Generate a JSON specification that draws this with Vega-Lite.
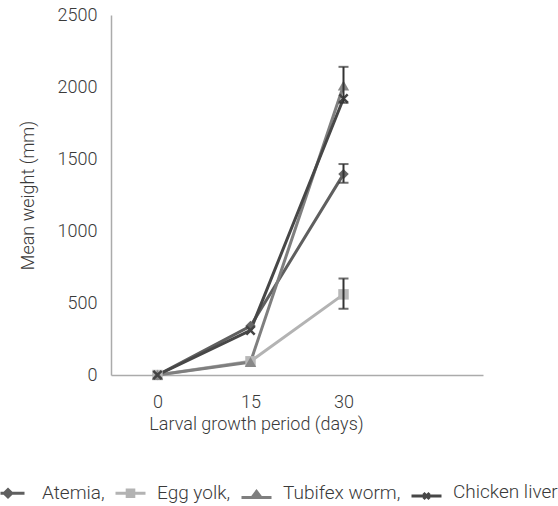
{
  "$schema": "https://vega.github.io/schema/vega-lite/v6.json",
  "width": 372,
  "height": 360,
  "autosize": "none",
  "padding": {"left": 111, "top": 15, "right": 75, "bottom": 131},
  "background": "white",
  "config": {
    "font": "Roboto",
    "view": {"stroke": null},
    "axis": {
      "labelFont": "Roboto",
      "titleFont": "Roboto",
      "labelFontSize": 18,
      "titleFontSize": 18,
      "labelFontWeight": 300,
      "titleFontWeight": 300,
      "labelColor": "#3a3a3a",
      "titleColor": "#3a3a3a",
      "domainColor": "#ababab",
      "domainWidth": 1.5,
      "ticks": false,
      "grid": false
    },
    "legend": {
      "labelFont": "Roboto",
      "labelFontSize": 19,
      "labelFontWeight": 300,
      "labelColor": "#3a3a3a"
    }
  },
  "data": {
    "values": [
      {"series": "Atemia", "day": 0, "weight": 0, "lo": null, "hi": null},
      {"series": "Atemia", "day": 15, "weight": 340, "lo": null, "hi": null},
      {"series": "Atemia", "day": 30, "weight": 1395, "lo": 1335, "hi": 1465},
      {"series": "Egg yolk", "day": 0, "weight": 0, "lo": null, "hi": null},
      {"series": "Egg yolk", "day": 15, "weight": 95, "lo": null, "hi": null},
      {"series": "Egg yolk", "day": 30, "weight": 560, "lo": 460, "hi": 670},
      {"series": "Tubifex worm", "day": 0, "weight": 0, "lo": null, "hi": null},
      {"series": "Tubifex worm", "day": 15, "weight": 90, "lo": null, "hi": null},
      {"series": "Tubifex worm", "day": 30, "weight": 2010, "lo": 1890, "hi": 2140},
      {"series": "Chicken liver", "day": 0, "weight": 0, "lo": null, "hi": null},
      {"series": "Chicken liver", "day": 15, "weight": 310, "lo": null, "hi": null},
      {"series": "Chicken liver", "day": 30, "weight": 1920, "lo": null, "hi": null}
    ]
  },
  "encoding": {
    "x": {
      "field": "day",
      "type": "quantitative",
      "scale": {"domain": [-7.5, 52.5], "nice": false, "zero": false},
      "axis": {
        "values": [0, 15, 30],
        "title": "Larval growth period (days)",
        "labelPadding": 18,
        "titleX": 145,
        "titleY": 40,
        "titleAnchor": "middle",
        "titleAlign": "center",
        "titleBaseline": "top"
      }
    },
    "y": {
      "field": "weight",
      "type": "quantitative",
      "scale": {"domain": [0, 2500], "nice": false},
      "axis": {
        "values": [0, 500, 1000, 1500, 2000, 2500],
        "format": "d",
        "title": "Mean weight  (mm)",
        "labelPadding": 14,
        "titleX": -83,
        "titleY": 180,
        "titleAnchor": "middle",
        "titleAlign": "center",
        "titleBaseline": "middle"
      }
    }
  },
  "layer": [
    {
      "mark": {"type": "line", "strokeWidth": 3},
      "encoding": {
        "color": {
          "field": "series",
          "type": "nominal",
          "sort": ["Atemia", "Egg yolk", "Tubifex worm", "Chicken liver"],
          "scale": {
            "domain": ["Atemia", "Egg yolk", "Tubifex worm", "Chicken liver"],
            "range": ["#5f5f5f", "#b3b3b3", "#7f7f7f", "#474747"]
          },
          "legend": {
            "title": null,
            "orient": "none",
            "direction": "horizontal",
            "legendX": -112,
            "legendY": 460,
            "padding": 0,
            "symbolSize": 900,
            "symbolStrokeWidth": 3,
            "labelOffset": 10,
            "columnPadding": 4,
            "labelExpr": "datum.label == 'Chicken liver' ? datum.label : datum.label + ','",
            "encode": {
              "symbols": {
                "update": {
                  "shape": {"signal": "datum.value == 'Atemia' ? 'M-1,0H0.6M-0.75,0L-0.5,-0.25L-0.25,0L-0.5,0.25Z' : datum.value == 'Egg yolk' ? 'M-1,0H1M-0.22,-0.22H0.22V0.22H-0.22Z' : datum.value == 'Tubifex worm' ? 'M-1,0.3H1M0,-0.1L0.3,0.3H-0.3Z' : 'M-1,0.3H1M-0.2,0.1L0.2,0.5M-0.2,0.5L0.2,0.1'"},
                  "fill": {"scale": "color", "field": "value"},
                  "stroke": {"scale": "color", "field": "value"},
                  "strokeWidth": {"value": 3},
                  "opacity": {"value": 1}
                }
              }
            }
          }
        }
      }
    },
    {
      "transform": [{"filter": "datum.series == 'Atemia'"}],
      "mark": {"type": "point", "filled": true, "shape": "diamond", "size": 110, "color": "#666666", "opacity": 1}
    },
    {
      "transform": [{"filter": "datum.series == 'Egg yolk'"}],
      "mark": {"type": "point", "filled": true, "shape": "square", "size": 110, "color": "#b8b8b8", "opacity": 1}
    },
    {
      "transform": [{"filter": "datum.series == 'Tubifex worm'"}],
      "mark": {"type": "point", "filled": true, "shape": "triangle-up", "size": 130, "color": "#888888", "opacity": 1}
    },
    {
      "transform": [{"filter": "datum.series == 'Chicken liver'"}],
      "mark": {"type": "point", "filled": false, "shape": "M-1,-1L1,1M-1,1L1,-1", "size": 70, "strokeWidth": 2.5, "color": "#444444", "opacity": 1}
    },
    {
      "mark": {"type": "rule", "color": "#333333", "strokeWidth": 2},
      "transform": [{"filter": "datum.lo != null"}],
      "encoding": {
        "y": {"field": "lo", "type": "quantitative"},
        "y2": {"field": "hi"}
      }
    },
    {
      "mark": {"type": "tick", "color": "#333333", "orient": "horizontal", "size": 10, "thickness": 2},
      "transform": [{"filter": "datum.lo != null"}],
      "encoding": {
        "y": {"field": "lo", "type": "quantitative"}
      }
    },
    {
      "mark": {"type": "tick", "color": "#333333", "orient": "horizontal", "size": 10, "thickness": 2},
      "transform": [{"filter": "datum.hi != null"}],
      "encoding": {
        "y": {"field": "hi", "type": "quantitative"}
      }
    }
  ]
}
